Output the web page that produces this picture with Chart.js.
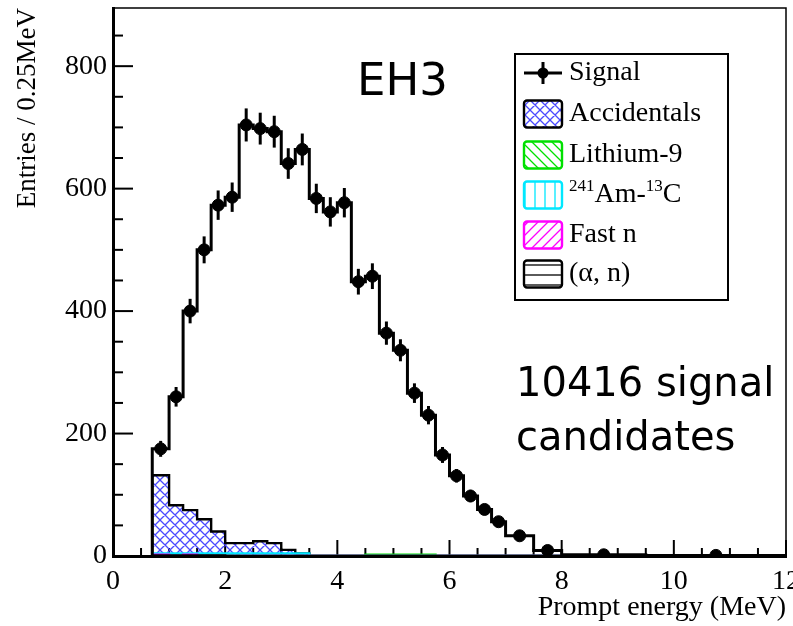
<!DOCTYPE html>
<html><head><meta charset="utf-8">
<script src="https://cdn.jsdelivr.net/npm/chart.js@4/dist/chart.umd.min.js"></script>
<style>html,body{margin:0;padding:0;background:#fff;}</style>
</head><body>
<canvas id="c" width="793" height="626"></canvas>
<script>
// ---- data ----
const binEdges = [0.7,1.0,1.25,1.5,1.75,2.0,2.25,2.5,2.75,3.0,3.25,3.5,3.75,4.0,4.25,4.5,4.75,5.0,5.25,5.5,5.75,6.0,6.25,6.5,6.75,7.0,7.5,8.0,9.5,12.0];
const signalCounts = [175,260,400,500,573,586,704,698,693,641,664,584,562,577,448,457,364,336,266,230,165,131,98,76,56,33,9,2,1];
const signalErrors = [13,16,20,22,24,24,27,26,26,25,26,24,24,24,21,21,19,18,16,15,13,11,10,9,7,4,2,1,1];
const accidentals  = [132,83,75,60,40,21,21,24,21,10,4,0,0,0,0,0,0,0,0,0,0,0,0,0,0,0,0,0,0];
const lithium9     = [0,0,0,2,2,2,0,0,0,0,0,0,0,0,0,2,2,2,2,2,0,0,0,0,0,0,0,0,0];
const amc          = [4,4,4,4,4,4,4,4,4,4,4,0,0,0,0,0,0,0,0,0,0,0,0,0,0,0,0,0,0];
const fastN        = [2,0,2,0,0,0,0,0,0,0,0,0,0,0,0,0,0,0,0,0,0,0,0,0,0,0,0,0,0];
const alphaN       = [1,1,1,1,1,0,0,0,0,0,0,0,0,0,0,0,0,0,0,0,0,0,0,0,0,0,0,0,0];
const xTicks = [0,2,4,6,8,10,12];
const yTicks = [0,200,400,600,800];
const labels = {
  signal: 'Signal', acc: 'Accidentals', li: 'Lithium-9', fast: 'Fast n', an: '(\u03b1, n)',
  xTitle: 'Prompt energy (MeV)', yTitle: 'Entries / 0.25MeV',
  hall: 'EH3', cand1: '10416 signal', cand2: 'candidates'
};

// ---- helpers ----
function stepData(vals){
  const d = [{x: binEdges[0], y: 0}];
  for (let i = 0; i < vals.length; i++) d.push({x: binEdges[i], y: vals[i]});
  const last = binEdges[binEdges.length-1];
  d.push({x: last, y: vals[vals.length-1]});
  d.push({x: last, y: 0});
  return d;
}
const ctx = document.getElementById('c').getContext('2d');
function pat(color, kind){
  const s = 10;
  const c = document.createElement('canvas'); c.width = s; c.height = s;
  const g = c.getContext('2d');
  g.strokeStyle = color; g.lineWidth = 1.3;
  g.beginPath();
  if (kind === 'cross' || kind === 'back') { g.moveTo(-1,-1); g.lineTo(s+1,s+1); g.moveTo(-1,s-1); g.lineTo(1,s+1); g.moveTo(s-1,-1); g.lineTo(s+1,1); }
  if (kind === 'cross' || kind === 'fwd') { g.moveTo(-1,s+1); g.lineTo(s+1,-1); g.moveTo(-1,1); g.lineTo(1,-1); g.moveTo(s-1,s+1); g.lineTo(s+1,s-1); }
  if (kind === 'vert') { g.moveTo(s/2,0); g.lineTo(s/2,s); }
  if (kind === 'horiz') { g.moveTo(0,s/2); g.lineTo(s,s/2); }
  g.stroke();
  return ctx.createPattern(c, 'repeat');
}
const BLUE = '#4a4aff', GREEN = '#00e000', CYAN = '#00e8ff', MAGENTA = '#ff00ff';
const patAcc = pat(BLUE, 'cross'), patLi = pat(GREEN, 'back'), patAm = pat(CYAN, 'vert'),
      patFast = pat(MAGENTA, 'fwd'), patAn = pat('#000', 'horiz');

const centers = signalCounts.map((v,i) => ({x: (binEdges[i]+binEdges[i+1])/2, y: v, err: signalErrors[i]}));

function histDS(label, vals, border, bg){
  return {type:'line', label, data: stepData(vals), stepped:'before', borderColor: border, borderWidth: 2.4,
          backgroundColor: bg, fill: 'origin', pointRadius: 0, tension: 0, order: 5};
}

const SERIF = '"Liberation Serif", "DejaVu Serif", serif';
const SANS = '"DejaVu Sans", sans-serif';

const extras = {
  id: 'extras',
  beforeDatasetsDraw(chart){
    const {ctx, chartArea: a, scales: {x, y}} = chart;
    ctx.save();
    ctx.strokeStyle = '#000';
    ctx.lineWidth = 2;
    for (let v = 0; v <= 12.0001; v += 0.5) {
      const px = x.getPixelForValue(v);
      const len = (Math.abs(v/2 - Math.round(v/2)) < 1e-6) ? 16 : 8;
      ctx.beginPath(); ctx.moveTo(px, a.bottom); ctx.lineTo(px, a.bottom - len); ctx.stroke();
    }
    for (let v = 0; v <= y.max; v += 50) {
      const py = y.getPixelForValue(v);
      const len = (v % 200 === 0) ? 20 : 10;
      ctx.beginPath(); ctx.moveTo(a.left, py); ctx.lineTo(a.left + len, py); ctx.stroke();
    }
    ctx.lineWidth = 1.5;
    ctx.beginPath(); ctx.moveTo(a.left, a.top); ctx.lineTo(a.right, a.top); ctx.lineTo(a.right, a.bottom); ctx.stroke();
    ctx.restore();
  },
  afterDatasetsDraw(chart){
    const {ctx, scales: {x, y}} = chart;
    ctx.save();
    ctx.strokeStyle = '#000'; ctx.lineWidth = 3;
    centers.forEach(p => {
      const px = x.getPixelForValue(p.x);
      ctx.beginPath();
      ctx.moveTo(px, y.getPixelForValue(p.y - p.err));
      ctx.lineTo(px, y.getPixelForValue(p.y + p.err));
      ctx.stroke();
    });
    // legend
    const L = 515, T = 54, R = 728, B = 300;
    ctx.fillStyle = '#fff'; ctx.fillRect(L, T, R-L, B-T);
    ctx.lineWidth = 2; ctx.strokeStyle = '#000'; ctx.strokeRect(L, T, R-L, B-T);
    const rows = [73, 114, 155, 195, 235, 274];
    const sx = 524, sw = 38, sh = 27;
    ctx.lineWidth = 3;
    ctx.beginPath(); ctx.moveTo(sx, rows[0]); ctx.lineTo(sx+sw, rows[0]); ctx.stroke();
    ctx.beginPath(); ctx.moveTo(sx+sw/2, rows[0]-11); ctx.lineTo(sx+sw/2, rows[0]+11); ctx.stroke();
    ctx.fillStyle = '#000'; ctx.beginPath(); ctx.arc(sx+sw/2, rows[0], 5.5, 0, Math.PI*2); ctx.fill();
    const sw_ = [[patAcc,'#000'],[patLi,GREEN],[patAm,CYAN],[patFast,MAGENTA],[patAn,'#000']];
    sw_.forEach((s, i) => {
      const cy = rows[i+1];
      ctx.fillStyle = s[0]; ctx.strokeStyle = s[1]; ctx.lineWidth = 2.4;
      ctx.beginPath();
      if (ctx.roundRect) ctx.roundRect(sx, cy - sh/2, sw, sh, 3); else ctx.rect(sx, cy - sh/2, sw, sh);
      ctx.fill(); ctx.stroke();
    });
    ctx.fillStyle = '#000'; ctx.textBaseline = 'middle'; ctx.textAlign = 'left';
    ctx.font = '28px ' + SERIF;
    const tx = 569;
    ctx.fillText(labels.signal, tx, rows[0]);
    ctx.fillText(labels.acc, tx, rows[1]);
    ctx.fillText(labels.li, tx, rows[2]);
    let cx = tx;
    ctx.font = '17px ' + SERIF; ctx.fillText('241', cx, rows[3]-8); cx += ctx.measureText('241').width;
    ctx.font = '28px ' + SERIF; ctx.fillText('Am-', cx, rows[3]); cx += ctx.measureText('Am-').width;
    ctx.font = '17px ' + SERIF; ctx.fillText('13', cx, rows[3]-8); cx += ctx.measureText('13').width;
    ctx.font = '28px ' + SERIF; ctx.fillText('C', cx, rows[3]);
    ctx.fillText(labels.fast, tx, rows[4]);
    ctx.fillText(labels.an, tx, rows[5]);
    // annotations
    ctx.textBaseline = 'alphabetic';
    ctx.font = '45px ' + SANS;
    ctx.fillText(labels.hall, 357, 95);
    ctx.font = '40px ' + SANS;
    ctx.fillText(labels.cand1, 516, 396);
    ctx.fillText(labels.cand2, 516, 450);
    ctx.restore();
  }
};

new Chart(ctx, {
  data: {
    datasets: [
      histDS('(\u03b1, n)', alphaN, '#000', patAn),
      histDS('Fast n', fastN, MAGENTA, patFast),
      histDS('241Am-13C', amc, CYAN, patAm),
      histDS('Lithium-9', lithium9, GREEN, patLi),
      histDS('Accidentals', accidentals, '#000', patAcc),
      {type:'line', label:'Signal hist', data: stepData(signalCounts), stepped:'before', borderColor:'#000', borderWidth:3, fill:false, pointRadius:0, order:2},
      {type:'scatter', label:'Signal', data: centers, pointRadius:6, pointBackgroundColor:'#000', pointBorderColor:'#000', order:1}
    ]
  },
  options: {
    responsive: false, animation: false, devicePixelRatio: 1,
    layout: {padding: {left: 0, right: 5, top: 8, bottom: 0}},
    plugins: {legend: {display: false}, tooltip: {enabled: false}},
    scales: {
      x: {
        type: 'linear', min: 0, max: 12,
        afterBuildTicks(s){ s.ticks = xTicks.map(v => ({value: v})); },
        afterFit(s){ s.height = 70; s.paddingLeft = 0; s.paddingRight = 0; },
        ticks: {font: {family: SERIF, size: 28}, color: '#000', padding: 9, maxRotation: 0, autoSkip: false},
        grid: {drawOnChartArea: false, drawTicks: false, color: 'rgba(0,0,0,0)'},
        border: {display: true, color: '#000', width: 3},
        title: {display: true, text: labels.xTitle, align: 'end', color: '#000', font: {family: SERIF, size: 28}, padding: {top: 0, bottom: 2}}
      },
      y: {
        type: 'linear', min: 0, max: 895,
        afterBuildTicks(s){ s.ticks = yTicks.map(v => ({value: v})); },
        afterFit(s){ s.width = 113; s.paddingTop = 0; s.paddingBottom = 0; },
        ticks: {font: {family: SERIF, size: 28}, color: '#000', padding: 6},
        grid: {drawOnChartArea: false, drawTicks: false, color: 'rgba(0,0,0,0)'},
        border: {display: true, color: '#000', width: 3},
        title: {display: true, text: labels.yTitle, align: 'end', color: '#000', font: {family: SERIF, size: 27}, padding: {top: 12, bottom: 0}}
      }
    }
  },
  plugins: [extras]
});
</script>
</body></html>
